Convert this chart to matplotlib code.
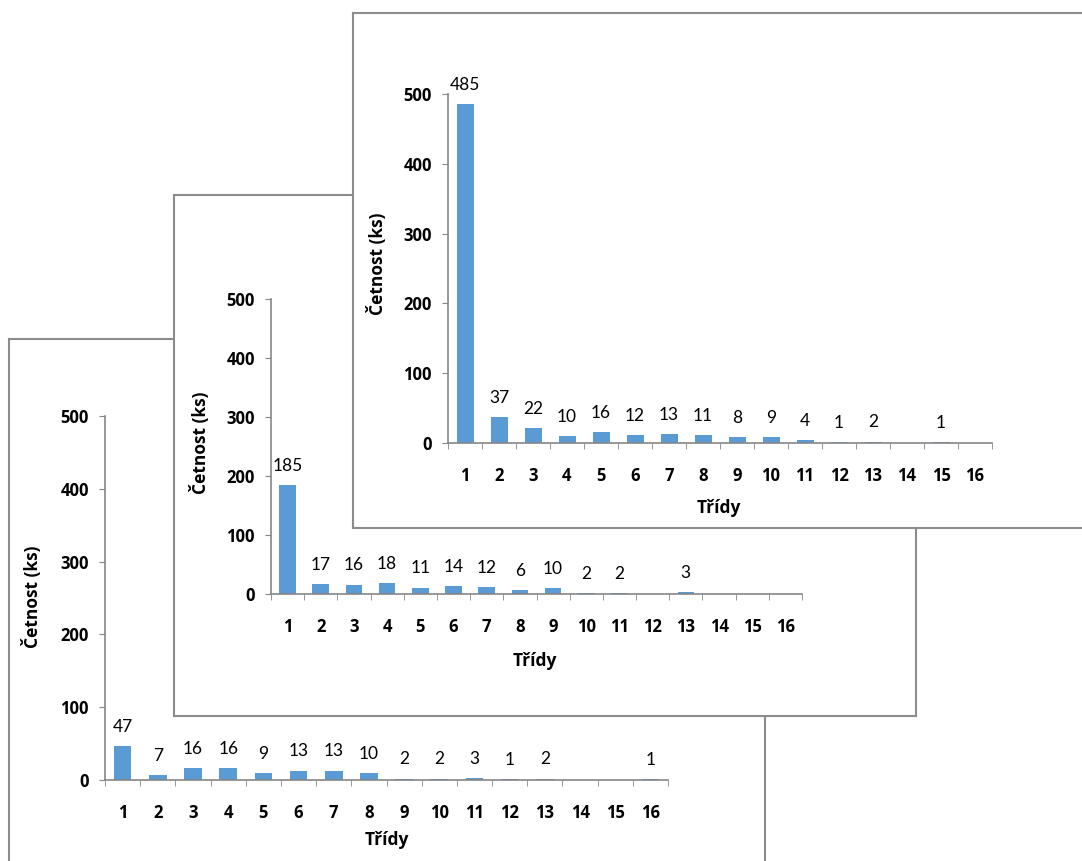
import matplotlib
matplotlib.use("Agg")
import matplotlib.pyplot as plt

plt.rcParams['font.family'] = ['Lato', 'DejaVu Sans']
BOLD_FAMILY = ['Open Sans', 'DejaVu Sans']

categories = [str(i) for i in range(1, 17)]
back_values = [47, 7, 16, 16, 9, 13, 13, 10, 2, 2, 3, 1, 2, 0, 0, 1]
middle_values = [185, 17, 16, 18, 11, 14, 12, 6, 10, 2, 2, 0, 3, 0, 0, 0]
front_values = [485, 37, 22, 10, 16, 12, 13, 11, 8, 9, 4, 1, 2, 0, 1, 0]
y_ticks = [0, 100, 200, 300, 400, 500]
y_label = "Četnost (ks)"
x_label = "Třídy"

W, H = 1082, 861
fig = plt.figure(figsize=(W / 100, H / 100), dpi=100)
fig.patch.set_facecolor("white")

BAR = "#5B9BD5"
AXC = "#868686"
BORDER = "#8C8C8C"


def rect_px(x0, y0, x1, y1):
    return [x0 / W, 1 - y1 / H, (x1 - x0) / W, (y1 - y0) / H]


def panel(frame, axes_px, values, ylab_xy, xlab_xy):
    bg = fig.add_axes(rect_px(*frame))
    bg.set_facecolor("white")
    bg.set_xticks([])
    bg.set_yticks([])
    for s in bg.spines.values():
        s.set_color(BORDER)
        s.set_linewidth(1.5)

    ax0, ay0, ax1, ay1 = axes_px
    ax = fig.add_axes(rect_px(ax0, ay0, ax1, ay1))
    ax.patch.set_alpha(0)
    x = list(range(1, len(categories) + 1))
    ax.bar(x, values, width=0.5, color=BAR, zorder=2)
    for xi, v in zip(x, values):
        if v > 0:
            ax.annotate(str(v), (xi, v), xytext=(0, 8), textcoords="offset points",
                        ha="center", va="bottom", fontsize=12.5, color="black")
    ax.set_xlim(0.5, len(categories) + 0.5)
    ax.set_ylim(0, 500)
    ax.set_yticks(y_ticks)
    ax.set_yticklabels([str(t) for t in y_ticks], fontsize=12, fontweight="bold",
                       family=BOLD_FAMILY)
    ax.set_xticks(x)
    ax.set_xticklabels(categories, fontsize=12, fontweight="bold", family=BOLD_FAMILY)
    ax.set_xticks([i + 0.5 for i in range(0, len(categories) + 1)], minor=True)
    ax.tick_params(axis="x", which="major", length=0, pad=17)
    ax.tick_params(axis="x", which="minor", length=4.5, color=AXC, direction="out")
    ax.tick_params(axis="y", length=4.5, color=AXC, pad=7)
    for side in ("top", "right"):
        ax.spines[side].set_visible(False)
    for side in ("left", "bottom"):
        ax.spines[side].set_color(AXC)
        ax.spines[side].set_linewidth(1.2)
    fig.text(ylab_xy[0] / W, 1 - ylab_xy[1] / H, y_label, rotation=90,
             ha="center", va="center", fontsize=12.5, fontweight="bold", family=BOLD_FAMILY)
    fig.text(xlab_xy[0] / W, 1 - xlab_xy[1] / H, x_label,
             ha="center", va="center", fontsize=12.5, fontweight="bold", family=BOLD_FAMILY)
    return ax


panel((9, 339, 765, 880), (105, 416, 668, 780), back_values, (32, 597), (387, 840))
panel((174, 195, 916, 716), (271, 299, 802, 594), middle_values, (200, 443), (535, 661))
panel((353, 13, 1095, 528), (448, 94, 992, 443), front_values, (377, 264), (719, 508))

fig.savefig("out.png", dpi=100, facecolor="white")
